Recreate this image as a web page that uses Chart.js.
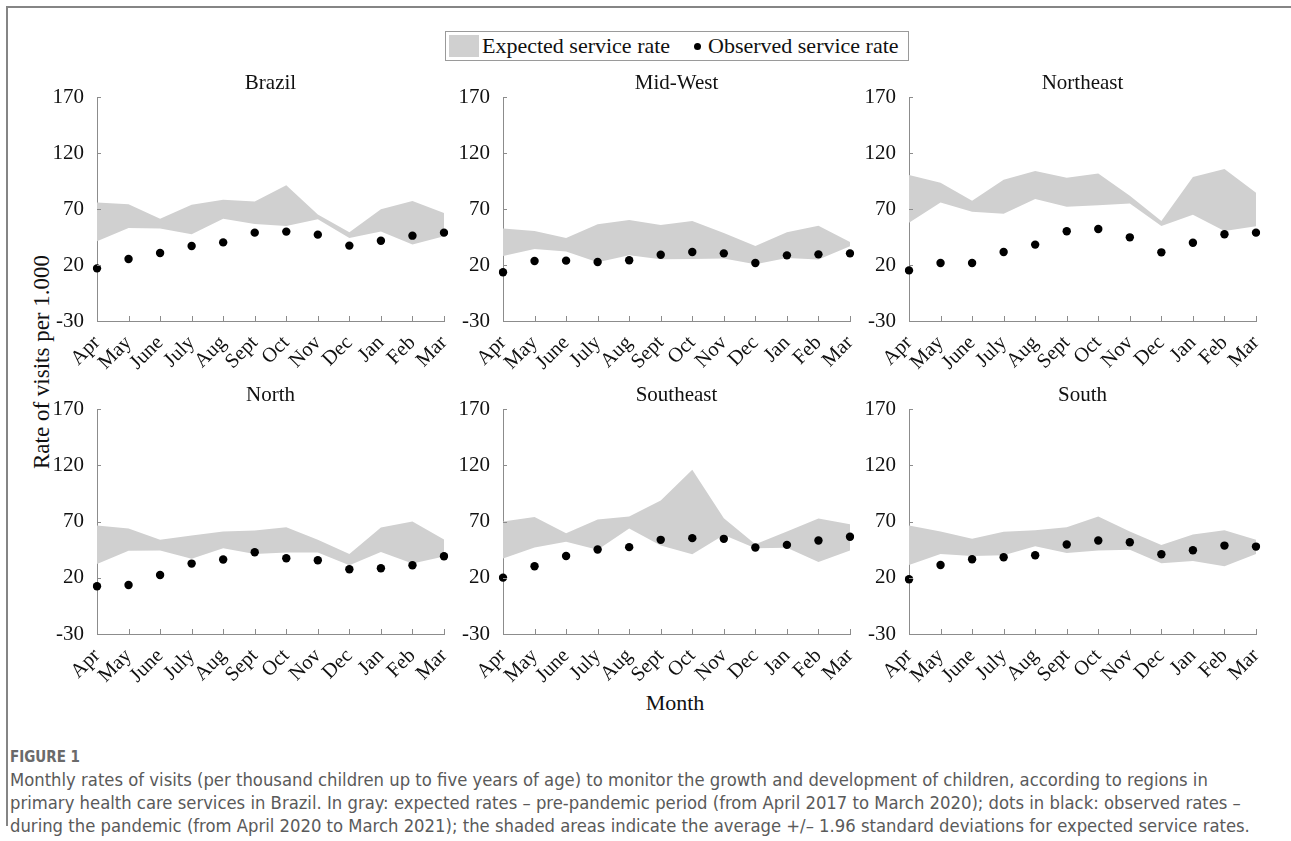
<!DOCTYPE html>
<html>
<head>
<meta charset="utf-8">
<script src="https://cdn.jsdelivr.net/npm/chart.js@4.4.1/dist/chart.umd.min.js"></script>
<style>
  body { margin: 0; background: #fff; width: 1291px; height: 841px; position: relative; overflow: hidden; }
  .frame-top { position: absolute; left: 6px; top: 6px; width: 1285px; border-top: 2px solid #858585; }
  .frame-left { position: absolute; left: 6px; top: 6px; height: 820px; border-left: 2px solid #858585; }
  .panel { position: absolute; }
  .legend { position: absolute; left: 445px; top: 31px; width: 462px; height: 28px; border: 1px solid #9a9a9a;
            font-family: "Liberation Serif", serif; font-size: 22px; color: #111; white-space: nowrap; }
  .legend .swatch { position: absolute; left: 3px; top: 3px; width: 30px; height: 22px; background: #d0d0d0; }
  .legend .t1 { position: absolute; left: 36px; top: 1px; }
  .legend .dot { position: absolute; left: 248px; top: 11px; width: 7px; height: 7px; border-radius: 50%; background: #000; }
  .legend .t2 { position: absolute; left: 262px; top: 1px; }
  .ylab { position: absolute; left: 42px; top: 362px; transform: translate(-50%, -50%) rotate(-90deg);
          font-family: "Liberation Serif", serif; font-size: 23px; color: #111; white-space: nowrap; }
  .xlab { position: absolute; left: 675px; top: 703px; transform: translate(-50%, -50%);
          font-family: "Liberation Serif", serif; font-size: 22px; color: #111; }
  .fig { position: absolute; left: 10px; top: 748px; font-family: "Liberation Sans Narrow", "DejaVu Sans Condensed", sans-serif;
         font-size: 15px; font-weight: bold; color: #6a6a6a; }
  .caption { position: absolute; left: 10px; top: 768px; font-family: "Liberation Sans Narrow", "DejaVu Sans Condensed", sans-serif;
             font-size: 18.3px; line-height: 23px; color: #5a5a5a; white-space: nowrap; }
</style>
</head>
<body>
<div class="frame-top"></div>
<div class="frame-left"></div>
<div class="legend">
  <div class="swatch"></div><span class="t1">Expected service rate</span>
  <div class="dot"></div><span class="t2">Observed service rate</span>
</div>
<div class="ylab">Rate of visits per 1.000</div>
<div class="xlab">Month</div>
<div class="fig">FIGURE 1</div>
<div class="caption">Monthly rates of visits (per thousand children up to five years of age) to monitor the growth and development of children, according to regions in<br>primary health care services in Brazil. In gray: expected rates – pre-pandemic period (from April 2017 to March 2020); dots in black: observed rates –<br>during the pandemic (from April 2020 to March 2021); the shaded areas indicate the average +/– 1.96 standard deviations for expected service rates.</div>

<script>
const months = ['Apr', 'May', 'June', 'July', 'Aug', 'Sept', 'Oct', 'Nov', 'Dec', 'Jan', 'Feb', 'Mar'];
const yTicks = [-30, 20, 70, 120, 170];
const regions = ['Brazil', 'Mid-West', 'Northeast', 'North', 'Southeast', 'South'];

// expected band (upper / lower) and observed rates, per region
const brazilUpper = [75.7, 74.2, 61.4, 73.9, 78.3, 76.8, 91.1, 65.2, 49.2, 69.7, 77.1, 66.4];
const brazilLower = [41.1, 53.0, 52.7, 47.4, 61.4, 56.6, 54.8, 60.8, 44.1, 49.8, 38.2, 45.6];
const brazilObserved = [17.0, 25.4, 30.7, 37.0, 40.2, 48.9, 49.8, 47.1, 37.3, 41.7, 46.2, 48.9];

const midWestUpper = [52.7, 50.4, 44.1, 56.3, 60.2, 55.7, 59.3, 48.6, 37.0, 49.2, 55.1, 40.5];
const midWestLower = [28.0, 34.3, 32.1, 22.4, 28.6, 25.1, 25.4, 25.7, 20.6, 26.3, 24.8, 36.7];
const midWestObserved = [13.5, 23.6, 23.9, 22.7, 24.2, 29.2, 31.6, 30.4, 21.8, 28.6, 29.5, 30.4];

const northeastUpper = [100.4, 93.5, 77.4, 96.2, 103.9, 98.0, 101.8, 81.9, 59.3, 98.6, 105.7, 84.6];
const northeastLower = [57.8, 75.7, 67.6, 65.8, 78.9, 72.1, 73.3, 74.8, 54.8, 64.9, 50.4, 54.5];
const northeastObserved = [15.2, 21.8, 21.8, 31.6, 38.2, 50.1, 52.1, 44.7, 31.3, 39.9, 47.4, 48.9];

const northUpper = [66.4, 63.8, 53.7, 57.5, 61.1, 62.0, 64.9, 53.7, 41.2, 64.7, 70.0, 54.0];
const northLower = [32.3, 43.9, 44.2, 36.8, 46.3, 41.2, 42.4, 42.4, 31.1, 43.0, 32.6, 38.8];
const northObserved = [12.4, 13.6, 22.5, 32.6, 36.2, 42.7, 37.4, 35.6, 27.6, 28.5, 31.1, 39.1];

const southeastUpper = [70.0, 73.9, 59.6, 71.8, 74.5, 88.7, 116.0, 73.0, 49.8, 61.1, 72.7, 67.6];
const southeastLower = [37.1, 46.9, 51.9, 44.8, 63.8, 48.6, 40.9, 58.1, 46.3, 46.6, 34.1, 44.2];
const southeastObserved = [20.1, 30.2, 39.4, 45.1, 47.2, 53.7, 55.2, 54.6, 46.9, 49.2, 53.1, 56.4];

const southUpper = [66.4, 61.1, 54.6, 60.8, 62.3, 64.9, 74.5, 61.1, 49.2, 58.4, 62.3, 53.7];
const southLower = [31.4, 41.2, 39.4, 40.0, 48.0, 42.1, 44.2, 44.8, 32.9, 35.0, 30.2, 41.2];
const southObserved = [18.7, 31.4, 36.5, 38.2, 40.0, 49.5, 53.1, 51.6, 40.9, 44.5, 48.6, 47.7];

const panelData = [
  [brazilUpper, brazilLower, brazilObserved],
  [midWestUpper, midWestLower, midWestObserved],
  [northeastUpper, northeastLower, northeastObserved],
  [northUpper, northLower, northObserved],
  [southeastUpper, southeastLower, southeastObserved],
  [southUpper, southLower, southObserved]
];

// layout of the 2x3 grid (plot area positions on the page)
const plotLefts = [97, 503, 909];
const plotTops = [97, 409];
const plotHeights = [224, 225];
const plotWidth = 347;
const yAxisW = 60, xAxisH = 62, titleH = 30, rightPad = 16;

const serif = '"Liberation Serif", serif';
const axisGray = '#8c8c8c';

const innerTicks = {
  id: 'innerTicks',
  afterDraw(chart) {
    const { ctx, chartArea: a, scales: { x, y } } = chart;
    ctx.save();
    ctx.strokeStyle = axisGray;
    ctx.lineWidth = 1;
    ctx.beginPath();
    x.ticks.forEach((t, i) => {
      const px = Math.round(x.getPixelForTick(i)) + 0.5;
      ctx.moveTo(px, a.bottom);
      ctx.lineTo(px, a.bottom - 5);
    });
    y.ticks.forEach((t, i) => {
      const py = Math.round(y.getPixelForTick(i)) + 0.5;
      ctx.moveTo(a.left, py);
      ctx.lineTo(a.left + 4, py);
    });
    ctx.stroke();
    ctx.restore();
  }
};

const panelTitle = {
  id: 'panelTitle',
  afterDraw(chart, args, opts) {
    const { ctx, chartArea: a } = chart;
    ctx.save();
    ctx.font = '21px ' + serif;
    ctx.fillStyle = '#111';
    ctx.textAlign = 'center';
    ctx.textBaseline = 'middle';
    ctx.fillText(opts.text, (a.left + a.right) / 2, a.top - 14);
    ctx.restore();
  }
};

regions.forEach((name, idx) => {
  const row = Math.floor(idx / 3), col = idx % 3;
  const [upper, lower, observed] = panelData[idx];

  const box = document.createElement('div');
  box.className = 'panel';
  box.style.left = (plotLefts[col] - yAxisW) + 'px';
  box.style.top = (plotTops[row] - titleH) + 'px';
  box.style.width = (yAxisW + plotWidth + rightPad) + 'px';
  box.style.height = (titleH + plotHeights[row] + xAxisH) + 'px';
  const canvas = document.createElement('canvas');
  box.appendChild(canvas);
  document.body.appendChild(box);

  new Chart(canvas.getContext('2d'), {
    type: 'line',
    data: {
      labels: months,
      datasets: [
        {
          label: 'Observed service rate',
          data: observed,
          showLine: false,
          pointRadius: 4.2,
          pointHoverRadius: 4.2,
          pointBackgroundColor: '#000',
          pointBorderColor: '#000',
          pointBorderWidth: 0
        },
        {
          label: 'lower',
          data: lower,
          borderWidth: 0,
          borderColor: 'rgba(0,0,0,0)',
          pointRadius: 0,
          fill: false,
          tension: 0
        },
        {
          label: 'Expected service rate',
          data: upper,
          borderWidth: 0,
          borderColor: 'rgba(0,0,0,0)',
          backgroundColor: '#d0d0d0',
          pointRadius: 0,
          fill: '-1',
          tension: 0
        }
      ]
    },
    options: {
      responsive: true,
      maintainAspectRatio: false,
      animation: false,
      layout: { padding: { top: titleH, right: rightPad, left: 0, bottom: 0 } },
      plugins: {
        legend: { display: false },
        tooltip: { enabled: false },
        panelTitle: { text: name }
      },
      scales: {
        x: {
          grid: { display: false },
          border: { color: axisGray, width: 1 },
          ticks: {
            autoSkip: false,
            minRotation: 45,
            maxRotation: 45,
            padding: 2,
            color: '#111',
            font: { family: serif, size: 20.5 }
          },
          afterFit: s => { s.height = xAxisH; s.paddingLeft = 0; s.paddingRight = 0; }
        },
        y: {
          min: -30,
          max: 170,
          grid: { display: false },
          border: { color: axisGray, width: 1 },
          afterBuildTicks: s => { s.ticks = yTicks.map(v => ({ value: v })); },
          ticks: {
            padding: 5,
            color: '#111',
            font: { family: serif, size: 21 }
          },
          afterFit: s => { s.width = yAxisW; s.paddingTop = 0; s.paddingBottom = 0; }
        }
      }
    },
    plugins: [innerTicks, panelTitle]
  });
});
</script>
</body>
</html>
